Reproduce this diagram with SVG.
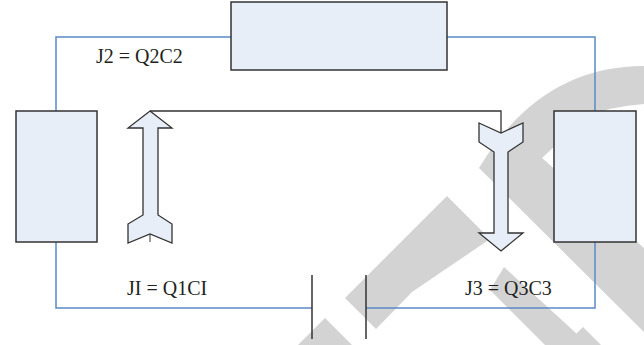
<svg xmlns="http://www.w3.org/2000/svg" width="644" height="345" viewBox="0 0 644 345">
<style>
.wm{fill:#d3d3d3;stroke:none}
.box{fill:#e8eef8;stroke:#333;stroke-width:1.5}
.wire{fill:none;stroke:#5a8ac8;stroke-width:1.5}
.blk{fill:none;stroke:#333;stroke-width:1.3}
.arr{fill:#e8eef8;stroke:#333;stroke-width:1.3;stroke-linejoin:miter}
.lbl{font-family:"Liberation Serif","Times New Roman",serif;font-size:20px;fill:#231f20}
</style>
<rect width="644" height="345" fill="#fff"/>
<g id="watermark">
<path class="wm" d="M644,66 Q540,66 479,168 L644,332 L644,248 L542,158 L585,118 Q610,106 644,104 Z"/>
<path class="wm" d="M345,298 L447,196 L490,239 L412,292 L376,329 Z"/>
<path class="wm" d="M504,267 L589,345 L545,345 L490,290 Z"/>
<path class="wm" d="M325,318 L352,345 L298,345 Z"/>
<path class="wm" d="M583,327 L601,345 L565,345 Z"/>
</g>
<g id="connectors">
<polyline class="wire" points="56,111 56,37 231,37"/>
<polyline class="wire" points="447,37 595,37 595,111"/>
<polyline class="wire" points="56,242 56,308 312,308"/>
<polyline class="wire" points="366,308 595,308 595,242"/>
<polyline class="blk" points="150,111 501,111 501,133"/>
</g>
<g id="capacitor">
<line x1="312" y1="275" x2="312" y2="339" stroke="#333" stroke-width="1.5"/>
<line x1="366" y1="275" x2="366" y2="339" stroke="#333" stroke-width="1.5"/>
</g>
<g id="node-top"><rect class="box" x="231" y="2" width="216" height="68"/></g>
<g id="node-left"><rect class="box" x="16" y="111" width="81" height="131"/></g>
<g id="node-right"><rect class="box" x="554" y="111" width="82" height="131"/></g>
<g id="arrow-up">
<polygon class="arr" points="150,111 172,128 158,128 158,215 172,224 172,243 150,234 128,243 128,224 143,215 143,128 128,128"/>
<line x1="150" y1="234" x2="150" y2="242" stroke="#333" stroke-width="1"/>
</g>
<g id="arrow-down">
<polygon class="arr" points="479,123 501,133 523,123 523,142 508,152 508,233 523,233 501,251 479,233 494,233 494,152 479,142"/>
</g>
<g id="labels">
<text class="lbl" x="96" y="63">J2 = Q2C2</text>
<text class="lbl" x="127" y="295">JI = Q1CI</text>
<text class="lbl" x="465" y="295">J3 = Q3C3</text>
</g>
</svg>
